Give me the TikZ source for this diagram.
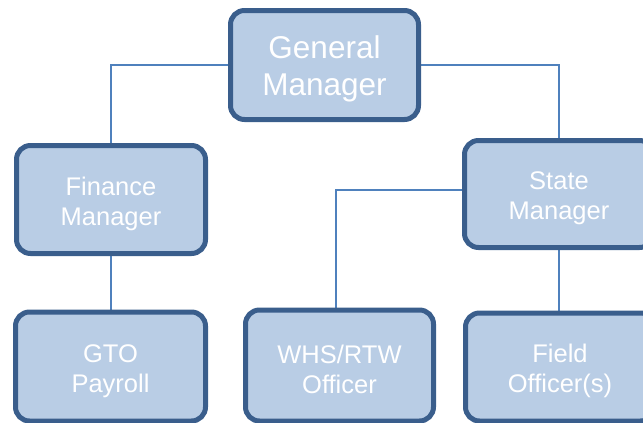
\documentclass[tikz,border=0pt]{standalone}
\usepackage{fontspec}
\setmainfont{Liberation Sans}
\usetikzlibrary{backgrounds,calc}
\definecolor{boxfill}{HTML}{B9CDE5}
\definecolor{boxline}{HTML}{3A5E8C}
\definecolor{conn}{HTML}{4F81BD}
\newcommand{\toppad}{\rule{0pt}{26.5pt}}
\newcommand{\bigpad}{\rule{0pt}{31pt}}
\tikzset{
  orgbox/.style={draw=boxline, fill=boxfill, line width=5pt, rounded corners=14pt,
    align=center, text=white, inner sep=0pt,
    font=\fontsize{25.5}{30}\selectfont},
  bigbox/.style={orgbox, font=\fontsize{31.5}{37}\selectfont},
  link/.style={draw=conn, line width=2pt}
}
\begin{document}
\begin{tikzpicture}[x=1pt,y=-1pt]
\useasboundingbox (0,0) rectangle (643,423);
\clip (0,0) rectangle (643,423);
\node[bigbox, minimum width=188pt, minimum height=109pt] (gm) at (324.5,65) {\bigpad General\\Manager};
\node[orgbox, minimum width=189pt, minimum height=108pt] (fm) at (111,199.5) {\toppad Finance\\Manager};
\node[orgbox, minimum width=189pt, minimum height=107pt] (st) at (559,194) {\toppad State\\Manager};
\node[orgbox, minimum width=190pt, minimum height=109pt] (gt) at (110.5,366.5) {\toppad GTO\\Payroll};
\node[orgbox, minimum width=188pt, minimum height=111pt] (wh) at (339.5,365.5) {\toppad WHS/RTW\\Officer};
\node[orgbox, minimum width=189pt, minimum height=108pt] (fo) at (560,367) {\toppad Field\\Officer(s)};
\begin{scope}[on background layer]
\draw[link] (gm.west) -| (fm.north);
\draw[link] (gm.east) -| (st.north);
\draw[link] (fm.south) -- (fm.south |- gt.north);
\draw[link] ($(st.west)+(0,-4)$) -| ($(wh.north)+(-3.5,0)$);
\draw[link] (st.south) -- (st.south |- fo.north);
\end{scope}
\end{tikzpicture}
\end{document}
